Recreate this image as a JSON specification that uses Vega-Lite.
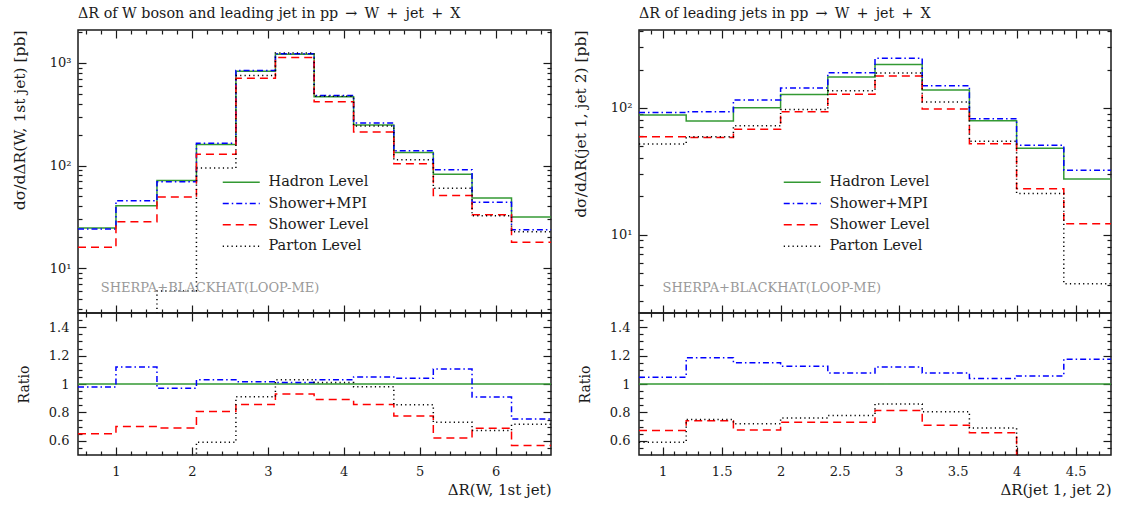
{
"$schema": "https://vega.github.io/schema/vega-lite/v6.json",
"padding": {"left": 11, "top": 6, "right": 4, "bottom": 4},
"background": "white",
"config": {
  "font": "DejaVu Serif",
  "view": {"stroke": "#1a1a1a", "strokeWidth": 1.5},
  "axis": {"grid": false, "domain": false, "tickColor": "#1a1a1a", "tickWidth": 1.2, "labelFont": "DejaVu Serif", "labelFontSize": 13, "labelColor": "#1a1a1a", "titleFont": "DejaVu Serif", "titleFontSize": 14, "titleFontWeight": "normal", "titleColor": "#1a1a1a"},
  "title": {"font": "DejaVu Serif", "fontSize": 14.3, "fontWeight": "normal", "color": "#1a1a1a"}
},
"datasets": {
  "ax": [{"x": 1, "v": 10, "r": 1}],
  "mainL": [
    {"s":"Hadron Level","x":0.5,"v":24.6},{"s":"Hadron Level","x":1.0,"v":40.6},{"s":"Hadron Level","x":1.54,"v":71.5},{"s":"Hadron Level","x":2.06,"v":160},{"s":"Hadron Level","x":2.58,"v":830},{"s":"Hadron Level","x":3.1,"v":1214},{"s":"Hadron Level","x":3.61,"v":468},{"s":"Hadron Level","x":4.13,"v":248},{"s":"Hadron Level","x":4.66,"v":134},{"s":"Hadron Level","x":5.18,"v":82.4},{"s":"Hadron Level","x":5.69,"v":48.2},{"s":"Hadron Level","x":6.21,"v":31.5},{"s":"Hadron Level","x":6.73,"v":31.5},
    {"s":"Shower+MPI","x":0.5,"v":24.1},{"s":"Shower+MPI","x":1.0,"v":45.5},{"s":"Shower+MPI","x":1.54,"v":69.4},{"s":"Shower+MPI","x":2.06,"v":165},{"s":"Shower+MPI","x":2.58,"v":842},{"s":"Shower+MPI","x":3.1,"v":1226},{"s":"Shower+MPI","x":3.61,"v":482},{"s":"Shower+MPI","x":4.13,"v":260},{"s":"Shower+MPI","x":4.66,"v":139},{"s":"Shower+MPI","x":5.18,"v":91},{"s":"Shower+MPI","x":5.69,"v":43.8},{"s":"Shower+MPI","x":6.21,"v":23.7},{"s":"Shower+MPI","x":6.73,"v":23.7},
    {"s":"Shower Level","x":0.5,"v":16.0},{"s":"Shower Level","x":1.0,"v":28.4},{"s":"Shower Level","x":1.54,"v":49.3},{"s":"Shower Level","x":2.06,"v":129},{"s":"Shower Level","x":2.58,"v":710},{"s":"Shower Level","x":3.1,"v":1129},{"s":"Shower Level","x":3.61,"v":417},{"s":"Shower Level","x":4.13,"v":212},{"s":"Shower Level","x":4.66,"v":104},{"s":"Shower Level","x":5.18,"v":51},{"s":"Shower Level","x":5.69,"v":33.2},{"s":"Shower Level","x":6.21,"v":17.9},{"s":"Shower Level","x":6.73,"v":17.9},
    {"s":"Parton Level","x":0.5,"v":1},{"s":"Parton Level","x":1.0,"v":1},{"s":"Parton Level","x":1.54,"v":6},{"s":"Parton Level","x":2.06,"v":94.4},{"s":"Parton Level","x":2.58,"v":755},{"s":"Parton Level","x":3.1,"v":1250},{"s":"Parton Level","x":3.61,"v":473},{"s":"Parton Level","x":4.13,"v":243},{"s":"Parton Level","x":4.66,"v":114},{"s":"Parton Level","x":5.18,"v":60},{"s":"Parton Level","x":5.69,"v":32.4},{"s":"Parton Level","x":6.21,"v":22.6},{"s":"Parton Level","x":6.73,"v":22.6}
  ],
  "ratioL": [
    {"s":"Hadron Level","x":0.5,"r":1},{"s":"Hadron Level","x":6.73,"r":1},
    {"s":"Shower+MPI","x":0.5,"r":0.979},{"s":"Shower+MPI","x":1.0,"r":1.12},{"s":"Shower+MPI","x":1.54,"r":0.97},{"s":"Shower+MPI","x":2.06,"r":1.03},{"s":"Shower+MPI","x":2.58,"r":1.015},{"s":"Shower+MPI","x":3.1,"r":1.01},{"s":"Shower+MPI","x":3.61,"r":1.03},{"s":"Shower+MPI","x":4.13,"r":1.05},{"s":"Shower+MPI","x":4.66,"r":1.04},{"s":"Shower+MPI","x":5.18,"r":1.106},{"s":"Shower+MPI","x":5.69,"r":0.908},{"s":"Shower+MPI","x":6.21,"r":0.754},{"s":"Shower+MPI","x":6.73,"r":0.754},
    {"s":"Shower Level","x":0.5,"r":0.65},{"s":"Shower Level","x":1.0,"r":0.70},{"s":"Shower Level","x":1.54,"r":0.69},{"s":"Shower Level","x":2.06,"r":0.806},{"s":"Shower Level","x":2.58,"r":0.855},{"s":"Shower Level","x":3.1,"r":0.93},{"s":"Shower Level","x":3.61,"r":0.89},{"s":"Shower Level","x":4.13,"r":0.855},{"s":"Shower Level","x":4.66,"r":0.775},{"s":"Shower Level","x":5.18,"r":0.62},{"s":"Shower Level","x":5.69,"r":0.688},{"s":"Shower Level","x":6.21,"r":0.567},{"s":"Shower Level","x":6.73,"r":0.567},
    {"s":"Parton Level","x":0.5,"r":0.01},{"s":"Parton Level","x":1.0,"r":0.01},{"s":"Parton Level","x":1.54,"r":0.084},{"s":"Parton Level","x":2.06,"r":0.59},{"s":"Parton Level","x":2.58,"r":0.91},{"s":"Parton Level","x":3.1,"r":1.03},{"s":"Parton Level","x":3.61,"r":1.01},{"s":"Parton Level","x":4.13,"r":0.98},{"s":"Parton Level","x":4.66,"r":0.853},{"s":"Parton Level","x":5.18,"r":0.73},{"s":"Parton Level","x":5.69,"r":0.673},{"s":"Parton Level","x":6.21,"r":0.716},{"s":"Parton Level","x":6.73,"r":0.716}
  ],
  "mainR": [
    {"s":"Hadron Level","x":0.8,"v":87.6},{"s":"Hadron Level","x":1.2,"v":78.6},{"s":"Hadron Level","x":1.6,"v":100},{"s":"Hadron Level","x":2.0,"v":127.3},{"s":"Hadron Level","x":2.4,"v":175},{"s":"Hadron Level","x":2.8,"v":219},{"s":"Hadron Level","x":3.2,"v":138},{"s":"Hadron Level","x":3.6,"v":79},{"s":"Hadron Level","x":4.0,"v":47.9},{"s":"Hadron Level","x":4.4,"v":27.4},{"s":"Hadron Level","x":4.8,"v":27.4},
    {"s":"Shower+MPI","x":0.8,"v":91.7},{"s":"Shower+MPI","x":1.2,"v":93.1},{"s":"Shower+MPI","x":1.6,"v":115},{"s":"Shower+MPI","x":2.0,"v":143},{"s":"Shower+MPI","x":2.4,"v":189},{"s":"Shower+MPI","x":2.8,"v":245},{"s":"Shower+MPI","x":3.2,"v":149},{"s":"Shower+MPI","x":3.6,"v":82},{"s":"Shower+MPI","x":4.0,"v":50.6},{"s":"Shower+MPI","x":4.4,"v":32.2},{"s":"Shower+MPI","x":4.8,"v":32.2},
    {"s":"Shower Level","x":0.8,"v":59},{"s":"Shower Level","x":1.2,"v":58.3},{"s":"Shower Level","x":1.6,"v":67.6},{"s":"Shower Level","x":2.0,"v":93},{"s":"Shower Level","x":2.4,"v":128},{"s":"Shower Level","x":2.8,"v":178},{"s":"Shower Level","x":3.2,"v":97.8},{"s":"Shower Level","x":3.6,"v":52},{"s":"Shower Level","x":4.0,"v":23},{"s":"Shower Level","x":4.4,"v":12.2},{"s":"Shower Level","x":4.8,"v":12.2},
    {"s":"Parton Level","x":0.8,"v":51.7},{"s":"Parton Level","x":1.2,"v":59},{"s":"Parton Level","x":1.6,"v":72},{"s":"Parton Level","x":2.0,"v":96.7},{"s":"Parton Level","x":2.4,"v":136},{"s":"Parton Level","x":2.8,"v":188},{"s":"Parton Level","x":3.2,"v":111},{"s":"Parton Level","x":3.6,"v":54.5},{"s":"Parton Level","x":4.0,"v":21.1},{"s":"Parton Level","x":4.4,"v":4.1},{"s":"Parton Level","x":4.8,"v":4.1}
  ],
  "ratioR": [
    {"s":"Hadron Level","x":0.8,"r":1},{"s":"Hadron Level","x":4.8,"r":1},
    {"s":"Shower+MPI","x":0.8,"r":1.047},{"s":"Shower+MPI","x":1.2,"r":1.185},{"s":"Shower+MPI","x":1.6,"r":1.15},{"s":"Shower+MPI","x":2.0,"r":1.125},{"s":"Shower+MPI","x":2.4,"r":1.078},{"s":"Shower+MPI","x":2.8,"r":1.12},{"s":"Shower+MPI","x":3.2,"r":1.078},{"s":"Shower+MPI","x":3.6,"r":1.038},{"s":"Shower+MPI","x":4.0,"r":1.057},{"s":"Shower+MPI","x":4.4,"r":1.175},{"s":"Shower+MPI","x":4.8,"r":1.175},
    {"s":"Shower Level","x":0.8,"r":0.673},{"s":"Shower Level","x":1.2,"r":0.742},{"s":"Shower Level","x":1.6,"r":0.676},{"s":"Shower Level","x":2.0,"r":0.73},{"s":"Shower Level","x":2.4,"r":0.73},{"s":"Shower Level","x":2.8,"r":0.813},{"s":"Shower Level","x":3.2,"r":0.709},{"s":"Shower Level","x":3.6,"r":0.657},{"s":"Shower Level","x":4.0,"r":0.48},{"s":"Shower Level","x":4.4,"r":0.445},{"s":"Shower Level","x":4.8,"r":0.445},
    {"s":"Parton Level","x":0.8,"r":0.59},{"s":"Parton Level","x":1.2,"r":0.75},{"s":"Parton Level","x":1.6,"r":0.72},{"s":"Parton Level","x":2.0,"r":0.76},{"s":"Parton Level","x":2.4,"r":0.778},{"s":"Parton Level","x":2.8,"r":0.86},{"s":"Parton Level","x":3.2,"r":0.804},{"s":"Parton Level","x":3.6,"r":0.69},{"s":"Parton Level","x":4.0,"r":0.44},{"s":"Parton Level","x":4.4,"r":0.15},{"s":"Parton Level","x":4.8,"r":0.15}
  ],
  "wmL": [{"x":0.8,"v":6.4,"t":"SHERPA+BLACKHAT(LOOP-ME)"}],
  "wmR": [{"x":1.0,"v":3.79,"t":"SHERPA+BLACKHAT(LOOP-ME)"}]
},
"spacing": 19,
"hconcat": [
 {
  "spacing": 0,
  "bounds": "flush",
  "resolve": {"scale": {"color": "independent", "strokeDash": "independent"}},
  "vconcat": [
   {
    "width": 473, "height": 283,
    "title": {"text": "ΔR of W boson and leading jet in pp\u2002→\u2002W\u2002+\u2002jet\u2002+\u2002X", "anchor": "start", "frame": "group", "offset": 8},
    "layer": [
     {"data": {"name": "mainL"}, "mark": {"type": "line", "interpolate": "step-after", "clip": true, "strokeWidth": 1.5},
      "encoding": {
       "x": {"field": "x", "type": "quantitative", "scale": {"domain": [0.5, 6.73], "nice": false, "zero": false}, "axis": {"orient": "bottom", "values": [1,2,3,4,5,6], "labels": false, "tickSize": -8, "title": null}},
       "y": {"field": "v", "type": "quantitative", "scale": {"type": "log", "domain": [3.66, 2090], "nice": false}, "axis": {"orient": "left", "values": [10,100,1000], "labelExpr": "datum.value >= 1000 ? '10³' : datum.value >= 100 ? '10²' : '10¹'", "tickSize": -8, "labelPadding": 15, "title": "dσ/dΔR(W, 1st jet) [pb]", "titleFontSize": 15.5, "titleAnchor": "end", "titlePadding": 22}},
       "color": {"field": "s", "type": "nominal", "scale": {"domain": ["Hadron Level","Shower+MPI","Shower Level","Parton Level"], "range": ["#339933","#0000ff","#ff0000","#000000"]}, "legend": {"orient": "none", "legendX": 156, "legendY": 145, "title": null, "symbolType": "M-3.7,0H3.7", "symbolSize": 100, "symbolStrokeWidth": 1.5, "labelFontSize": 14.5, "labelFont": "DejaVu Serif", "labelOffset": 20, "rowPadding": 6.3, "padding": 0, "labelColor": "#1a1a1a"}},
       "strokeDash": {"field": "s", "type": "nominal", "scale": {"domain": ["Hadron Level","Shower+MPI","Shower Level","Parton Level"], "range": [[1,0],[6,3,1.5,3],[8,5],[1.2,3.2]]}, "legend": {"orient": "none", "legendX": 156, "legendY": 145, "title": null, "symbolType": "M-3.7,0H3.7", "symbolSize": 100, "symbolStrokeWidth": 1.5, "labelFontSize": 14.5, "labelFont": "DejaVu Serif", "labelOffset": 20, "rowPadding": 6.3, "padding": 0, "labelColor": "#1a1a1a"}}
      }},
     {"data": {"name": "ax"}, "mark": {"type": "point", "opacity": 0, "clip": true},
      "encoding": {
       "x": {"field": "x", "type": "quantitative", "axis": {"orient": "bottom", "values": [0.6,0.8,1.2,1.4,1.6,1.8,2.2,2.4,2.6,2.8,3.2,3.4,3.6,3.8,4.2,4.4,4.6,4.8,5.2,5.4,5.6,5.8,6.2,6.4,6.6], "labels": false, "tickSize": -4, "title": null}},
       "y": {"field": "v", "type": "quantitative", "axis": {"orient": "left", "values": [4,5,6,7,8,9,20,30,40,50,60,70,80,90,200,300,400,500,600,700,800,900,2000], "labels": false, "tickSize": -4, "title": null}}
      }},
     {"data": {"name": "ax"}, "mark": {"type": "point", "opacity": 0, "clip": true},
      "encoding": {
       "x": {"field": "x", "type": "quantitative", "axis": {"orient": "top", "values": [1,2,3,4,5,6], "labels": false, "tickSize": -8, "title": null}},
       "y": {"field": "v", "type": "quantitative", "axis": {"orient": "right", "values": [10,100,1000], "labels": false, "tickSize": -8, "title": null}}
      }},
     {"data": {"name": "ax"}, "mark": {"type": "point", "opacity": 0, "clip": true},
      "encoding": {
       "x": {"field": "x", "type": "quantitative", "axis": {"orient": "top", "values": [0.6,0.8,1.2,1.4,1.6,1.8,2.2,2.4,2.6,2.8,3.2,3.4,3.6,3.8,4.2,4.4,4.6,4.8,5.2,5.4,5.6,5.8,6.2,6.4,6.6], "labels": false, "tickSize": -4, "title": null}},
       "y": {"field": "v", "type": "quantitative", "axis": {"orient": "right", "values": [4,5,6,7,8,9,20,30,40,50,60,70,80,90,200,300,400,500,600,700,800,900,2000], "labels": false, "tickSize": -4, "title": null}}
      }},
     {"data": {"name": "wmL"}, "mark": {"type": "text", "align": "left", "baseline": "middle", "color": "#999999", "fontSize": 13, "font": "DejaVu Serif"},
      "encoding": {
       "x": {"field": "x", "type": "quantitative", "axis": null},
       "y": {"field": "v", "type": "quantitative", "axis": null},
       "text": {"field": "t"}
      }}
    ],
    "resolve": {"axis": {"x": "independent", "y": "independent"}}
   },
   {
    "width": 473, "height": 142,
    "layer": [
     {"data": {"name": "ratioL"}, "mark": {"type": "line", "interpolate": "step-after", "clip": true, "strokeWidth": 1.5},
      "encoding": {
       "x": {"field": "x", "type": "quantitative", "scale": {"domain": [0.5, 6.73], "nice": false, "zero": false}, "axis": {"orient": "bottom", "values": [1,2,3,4,5,6], "tickSize": -8, "labelPadding": 18, "title": "ΔR(W, 1st jet)", "titleFontSize": 15, "titleAnchor": "end", "titlePadding": 4}},
       "y": {"field": "r", "type": "quantitative", "scale": {"domain": [0.5, 1.5], "nice": false, "zero": false}, "axis": {"orient": "left", "values": [0.6,0.8,1,1.2,1.4], "format": "~g", "tickSize": -8, "labelPadding": 17, "title": "Ratio", "titlePadding": 17}},
       "color": {"field": "s", "type": "nominal", "scale": {"domain": ["Hadron Level","Shower+MPI","Shower Level","Parton Level"], "range": ["#339933","#0000ff","#ff0000","#000000"]}, "legend": null},
       "strokeDash": {"field": "s", "type": "nominal", "scale": {"domain": ["Hadron Level","Shower+MPI","Shower Level","Parton Level"], "range": [[1,0],[6,3,1.5,3],[8,5],[1.2,3.2]]}, "legend": null}
      }},
     {"data": {"name": "ax"}, "mark": {"type": "point", "opacity": 0, "clip": true},
      "encoding": {
       "x": {"field": "x", "type": "quantitative", "axis": {"orient": "bottom", "values": [0.6,0.8,1.2,1.4,1.6,1.8,2.2,2.4,2.6,2.8,3.2,3.4,3.6,3.8,4.2,4.4,4.6,4.8,5.2,5.4,5.6,5.8,6.2,6.4,6.6], "labels": false, "tickSize": -4, "title": null}},
       "y": {"field": "r", "type": "quantitative", "axis": {"orient": "left", "values": [0.55,0.65,0.7,0.75,0.85,0.9,0.95,1.05,1.1,1.15,1.25,1.3,1.35,1.45], "labels": false, "tickSize": -4, "title": null}}
      }},
     {"data": {"name": "ax"}, "mark": {"type": "point", "opacity": 0, "clip": true},
      "encoding": {
       "x": {"field": "x", "type": "quantitative", "axis": {"orient": "top", "values": [1,2,3,4,5,6], "labels": false, "tickSize": -8, "title": null}},
       "y": {"field": "r", "type": "quantitative", "axis": {"orient": "right", "values": [0.6,0.8,1,1.2,1.4], "labels": false, "tickSize": -8, "title": null}}
      }},
     {"data": {"name": "ax"}, "mark": {"type": "point", "opacity": 0, "clip": true},
      "encoding": {
       "x": {"field": "x", "type": "quantitative", "axis": {"orient": "top", "values": [0.6,0.8,1.2,1.4,1.6,1.8,2.2,2.4,2.6,2.8,3.2,3.4,3.6,3.8,4.2,4.4,4.6,4.8,5.2,5.4,5.6,5.8,6.2,6.4,6.6], "labels": false, "tickSize": -4, "title": null}},
       "y": {"field": "r", "type": "quantitative", "axis": {"orient": "right", "values": [0.55,0.65,0.7,0.75,0.85,0.9,0.95,1.05,1.1,1.15,1.25,1.3,1.35,1.45], "labels": false, "tickSize": -4, "title": null}}
      }}
    ],
    "resolve": {"axis": {"x": "independent", "y": "independent"}}
   }
  ]
 },
 {
  "spacing": 0,
  "bounds": "flush",
  "resolve": {"scale": {"color": "independent", "strokeDash": "independent"}},
  "vconcat": [
   {
    "width": 472, "height": 283,
    "title": {"text": "ΔR of leading jets in pp\u2002→\u2002W\u2002+\u2002jet\u2002+\u2002X", "anchor": "start", "frame": "group", "offset": 8},
    "layer": [
     {"data": {"name": "mainR"}, "mark": {"type": "line", "interpolate": "step-after", "clip": true, "strokeWidth": 1.5},
      "encoding": {
       "x": {"field": "x", "type": "quantitative", "scale": {"domain": [0.8, 4.8], "nice": false, "zero": false}, "axis": {"orient": "bottom", "values": [1,1.5,2,2.5,3,3.5,4,4.5], "labels": false, "tickSize": -8, "title": null}},
       "y": {"field": "v", "type": "quantitative", "scale": {"type": "log", "domain": [2.41, 410], "nice": false}, "axis": {"orient": "left", "values": [10,100], "labelExpr": "datum.value >= 100 ? '10²' : '10¹'", "tickSize": -8, "labelPadding": 15, "title": "dσ/dΔR(jet 1, jet 2) [pb]", "titleFontSize": 15.5, "titleAnchor": "end", "titlePadding": 22}},
       "color": {"field": "s", "type": "nominal", "scale": {"domain": ["Hadron Level","Shower+MPI","Shower Level","Parton Level"], "range": ["#339933","#0000ff","#ff0000","#000000"]}, "legend": {"orient": "none", "legendX": 156, "legendY": 145, "title": null, "symbolType": "M-3.7,0H3.7", "symbolSize": 100, "symbolStrokeWidth": 1.5, "labelFontSize": 14.5, "labelFont": "DejaVu Serif", "labelOffset": 20, "rowPadding": 6.3, "padding": 0, "labelColor": "#1a1a1a"}},
       "strokeDash": {"field": "s", "type": "nominal", "scale": {"domain": ["Hadron Level","Shower+MPI","Shower Level","Parton Level"], "range": [[1,0],[6,3,1.5,3],[8,5],[1.2,3.2]]}, "legend": {"orient": "none", "legendX": 156, "legendY": 145, "title": null, "symbolType": "M-3.7,0H3.7", "symbolSize": 100, "symbolStrokeWidth": 1.5, "labelFontSize": 14.5, "labelFont": "DejaVu Serif", "labelOffset": 20, "rowPadding": 6.3, "padding": 0, "labelColor": "#1a1a1a"}}
      }},
     {"data": {"name": "ax"}, "mark": {"type": "point", "opacity": 0, "clip": true},
      "encoding": {
       "x": {"field": "x", "type": "quantitative", "axis": {"orient": "bottom", "values": [0.9,1.1,1.2,1.3,1.4,1.6,1.7,1.8,1.9,2.1,2.2,2.3,2.4,2.6,2.7,2.8,2.9,3.1,3.2,3.3,3.4,3.6,3.7,3.8,3.9,4.1,4.2,4.3,4.4,4.6,4.7], "labels": false, "tickSize": -4, "title": null}},
       "y": {"field": "v", "type": "quantitative", "axis": {"orient": "left", "values": [3,4,5,6,7,8,9,20,30,40,50,60,70,80,90,200,300,400], "labels": false, "tickSize": -4, "title": null}}
      }},
     {"data": {"name": "ax"}, "mark": {"type": "point", "opacity": 0, "clip": true},
      "encoding": {
       "x": {"field": "x", "type": "quantitative", "axis": {"orient": "top", "values": [1,1.5,2,2.5,3,3.5,4,4.5], "labels": false, "tickSize": -8, "title": null}},
       "y": {"field": "v", "type": "quantitative", "axis": {"orient": "right", "values": [10,100], "labels": false, "tickSize": -8, "title": null}}
      }},
     {"data": {"name": "ax"}, "mark": {"type": "point", "opacity": 0, "clip": true},
      "encoding": {
       "x": {"field": "x", "type": "quantitative", "axis": {"orient": "top", "values": [0.9,1.1,1.2,1.3,1.4,1.6,1.7,1.8,1.9,2.1,2.2,2.3,2.4,2.6,2.7,2.8,2.9,3.1,3.2,3.3,3.4,3.6,3.7,3.8,3.9,4.1,4.2,4.3,4.4,4.6,4.7], "labels": false, "tickSize": -4, "title": null}},
       "y": {"field": "v", "type": "quantitative", "axis": {"orient": "right", "values": [3,4,5,6,7,8,9,20,30,40,50,60,70,80,90,200,300,400], "labels": false, "tickSize": -4, "title": null}}
      }},
     {"data": {"name": "wmR"}, "mark": {"type": "text", "align": "left", "baseline": "middle", "color": "#999999", "fontSize": 13, "font": "DejaVu Serif"},
      "encoding": {
       "x": {"field": "x", "type": "quantitative", "axis": null},
       "y": {"field": "v", "type": "quantitative", "axis": null},
       "text": {"field": "t"}
      }}
    ],
    "resolve": {"axis": {"x": "independent", "y": "independent"}}
   },
   {
    "width": 472, "height": 142,
    "layer": [
     {"data": {"name": "ratioR"}, "mark": {"type": "line", "interpolate": "step-after", "clip": true, "strokeWidth": 1.5},
      "encoding": {
       "x": {"field": "x", "type": "quantitative", "scale": {"domain": [0.8, 4.8], "nice": false, "zero": false}, "axis": {"orient": "bottom", "values": [1,1.5,2,2.5,3,3.5,4,4.5], "format": "~g", "tickSize": -8, "labelPadding": 18, "title": "ΔR(jet 1, jet 2)", "titleFontSize": 15, "titleAnchor": "end", "titlePadding": 4}},
       "y": {"field": "r", "type": "quantitative", "scale": {"domain": [0.5, 1.5], "nice": false, "zero": false}, "axis": {"orient": "left", "values": [0.6,0.8,1,1.2,1.4], "format": "~g", "tickSize": -8, "labelPadding": 17, "title": "Ratio", "titlePadding": 17}},
       "color": {"field": "s", "type": "nominal", "scale": {"domain": ["Hadron Level","Shower+MPI","Shower Level","Parton Level"], "range": ["#339933","#0000ff","#ff0000","#000000"]}, "legend": null},
       "strokeDash": {"field": "s", "type": "nominal", "scale": {"domain": ["Hadron Level","Shower+MPI","Shower Level","Parton Level"], "range": [[1,0],[6,3,1.5,3],[8,5],[1.2,3.2]]}, "legend": null}
      }},
     {"data": {"name": "ax"}, "mark": {"type": "point", "opacity": 0, "clip": true},
      "encoding": {
       "x": {"field": "x", "type": "quantitative", "axis": {"orient": "bottom", "values": [0.9,1.1,1.2,1.3,1.4,1.6,1.7,1.8,1.9,2.1,2.2,2.3,2.4,2.6,2.7,2.8,2.9,3.1,3.2,3.3,3.4,3.6,3.7,3.8,3.9,4.1,4.2,4.3,4.4,4.6,4.7], "labels": false, "tickSize": -4, "title": null}},
       "y": {"field": "r", "type": "quantitative", "axis": {"orient": "left", "values": [0.55,0.65,0.7,0.75,0.85,0.9,0.95,1.05,1.1,1.15,1.25,1.3,1.35,1.45], "labels": false, "tickSize": -4, "title": null}}
      }},
     {"data": {"name": "ax"}, "mark": {"type": "point", "opacity": 0, "clip": true},
      "encoding": {
       "x": {"field": "x", "type": "quantitative", "axis": {"orient": "top", "values": [1,1.5,2,2.5,3,3.5,4,4.5], "labels": false, "tickSize": -8, "title": null}},
       "y": {"field": "r", "type": "quantitative", "axis": {"orient": "right", "values": [0.6,0.8,1,1.2,1.4], "labels": false, "tickSize": -8, "title": null}}
      }},
     {"data": {"name": "ax"}, "mark": {"type": "point", "opacity": 0, "clip": true},
      "encoding": {
       "x": {"field": "x", "type": "quantitative", "axis": {"orient": "top", "values": [0.9,1.1,1.2,1.3,1.4,1.6,1.7,1.8,1.9,2.1,2.2,2.3,2.4,2.6,2.7,2.8,2.9,3.1,3.2,3.3,3.4,3.6,3.7,3.8,3.9,4.1,4.2,4.3,4.4,4.6,4.7], "labels": false, "tickSize": -4, "title": null}},
       "y": {"field": "r", "type": "quantitative", "axis": {"orient": "right", "values": [0.55,0.65,0.7,0.75,0.85,0.9,0.95,1.05,1.1,1.15,1.25,1.3,1.35,1.45], "labels": false, "tickSize": -4, "title": null}}
      }}
    ],
    "resolve": {"axis": {"x": "independent", "y": "independent"}}
   }
  ]
 }
]
}
